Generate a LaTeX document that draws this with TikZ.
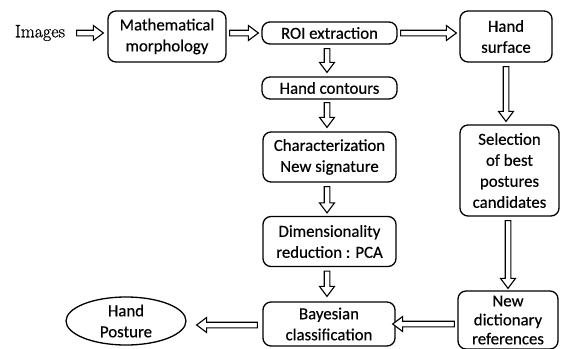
\documentclass[tikz,border=0pt]{standalone}
\usepackage{fontspec}
\newfontfamily\carlitofont[FakeBold=0.4]{Carlito}
\newfontfamily\imgfont[FakeBold=0.8]{Latin Modern Roman}
\usetikzlibrary{calc,shapes.geometric}
\newcommand\aw{2.8pt}
\newcommand\ahw{7.5pt}
\newcommand\ahl{10pt}
\newcommand\harrow[2]{\draw[arr] let \p1=(#1),\p2=(#2),\n1={sign(\x2-\x1)} in
 (\x1,\y1+\aw) -- (\x2-\n1*\ahl,\y1+\aw) -- (\x2-\n1*\ahl,\y1+\ahw) -- (\x2,\y1)
 -- (\x2-\n1*\ahl,\y1-\ahw) -- (\x2-\n1*\ahl,\y1-\aw) -- (\x1,\y1-\aw) -- cycle;}
\newcommand\varrow[2]{\draw[arr] let \p1=(#1),\p2=(#2),\n1={sign(\y2-\y1)} in
 (\x1+\aw,\y1) -- (\x1+\aw,\y2-\n1*\ahl) -- (\x1+\ahw,\y2-\n1*\ahl) -- (\x1,\y2)
 -- (\x1-\ahw,\y2-\n1*\ahl) -- (\x1-\aw,\y2-\n1*\ahl) -- (\x1-\aw,\y1) -- cycle;}
\tikzset{
  box/.style={draw, line width=1.3pt, rounded corners=8pt, align=center,
    font=\carlitofont\fontsize{16.8}{21}\selectfont, inner sep=0pt},
  arr/.style={draw, line width=1.1pt, fill=white, line join=miter}
}
\begin{document}
\begin{tikzpicture}[x=1pt,y=-1pt]
\useasboundingbox[fill=white] (0,0) rectangle (561,348);
\node[font=\imgfont\fontsize{18}{21}\selectfont] (img) at (40,33) {Images};
\node[box, minimum width=118pt, minimum height=51pt] (math) at (167,36.5) {Mathematical\\morphology};
\node[box, minimum width=135pt, minimum height=22pt] (roi) at (329.5,33) {ROI extraction};
\node[box, minimum width=92pt, minimum height=51pt] (surf) at (506,36.5) {Hand\\surface};
\node[box, minimum width=135pt, minimum height=22pt] (cont) at (329.5,88) {Hand contours};
\node[box, minimum width=133pt, minimum height=50pt] (char) at (329.5,157) {Characterization\\New signature};
\node[box, minimum width=99pt, minimum height=91pt] (sel) at (509.5,170.5) {Selection\\of best\\postures\\candidates};
\node[box, minimum width=133pt, minimum height=50pt] (dim) at (329.5,241.5) {Dimensionality\\reduction : PCA};
\node[box, minimum width=132pt, minimum height=44pt] (bay) at (329,324) {Bayesian\\classification};
\node[box, minimum width=100pt, minimum height=58pt, font=\carlitofont\fontsize{16.8}{19}\selectfont] (dict) at (508,320) {New\\dictionary\\references};
\node[draw, line width=1.3pt, ellipse, minimum width=120pt, minimum height=48pt, inner sep=0pt,
  align=center, font=\carlitofont\fontsize{16.8}{21}\selectfont] (post) at (126,321) {Hand\\Posture};
% connectors
\coordinate (a1s) at ([xshift=8pt]img.east);
\harrow{a1s}{[xshift=-4pt]math.west|-img.east}
\harrow{[xshift=3pt]math.east|-roi.west}{[xshift=-3pt]roi.west}
\harrow{[xshift=3pt]roi.east}{[xshift=-3pt]surf.west|-roi.east}
\varrow{[yshift=-4pt,xshift=-2.5pt]roi.south}{[yshift=4pt,xshift=-2.5pt]cont.north}
\varrow{[yshift=-4pt]surf.south}{[yshift=3pt]surf.south|-sel.north}
\varrow{[yshift=-3pt,xshift=-2.5pt]cont.south}{[yshift=4pt,xshift=-2.5pt]cont.south|-char.north}
\varrow{[yshift=-4pt,xshift=-2.5pt]char.south}{[yshift=3pt,xshift=-2.5pt]char.south|-dim.north}
\varrow{[yshift=-4pt,xshift=-1.5pt]sel.south}{[yshift=2pt,xshift=-1.5pt]sel.south|-dict.north}
\varrow{[yshift=-4pt,xshift=-2.5pt]dim.south}{[yshift=5pt,xshift=-2.5pt]dim.south|-bay.north}
\harrow{[xshift=-3pt]dict.west|-bay.east}{[xshift=-3pt,yshift=-1pt]bay.east}
\harrow{[xshift=-5pt,yshift=-1pt]bay.west}{[xshift=10pt,yshift=-1pt]post.east}
\end{tikzpicture}
\end{document}
